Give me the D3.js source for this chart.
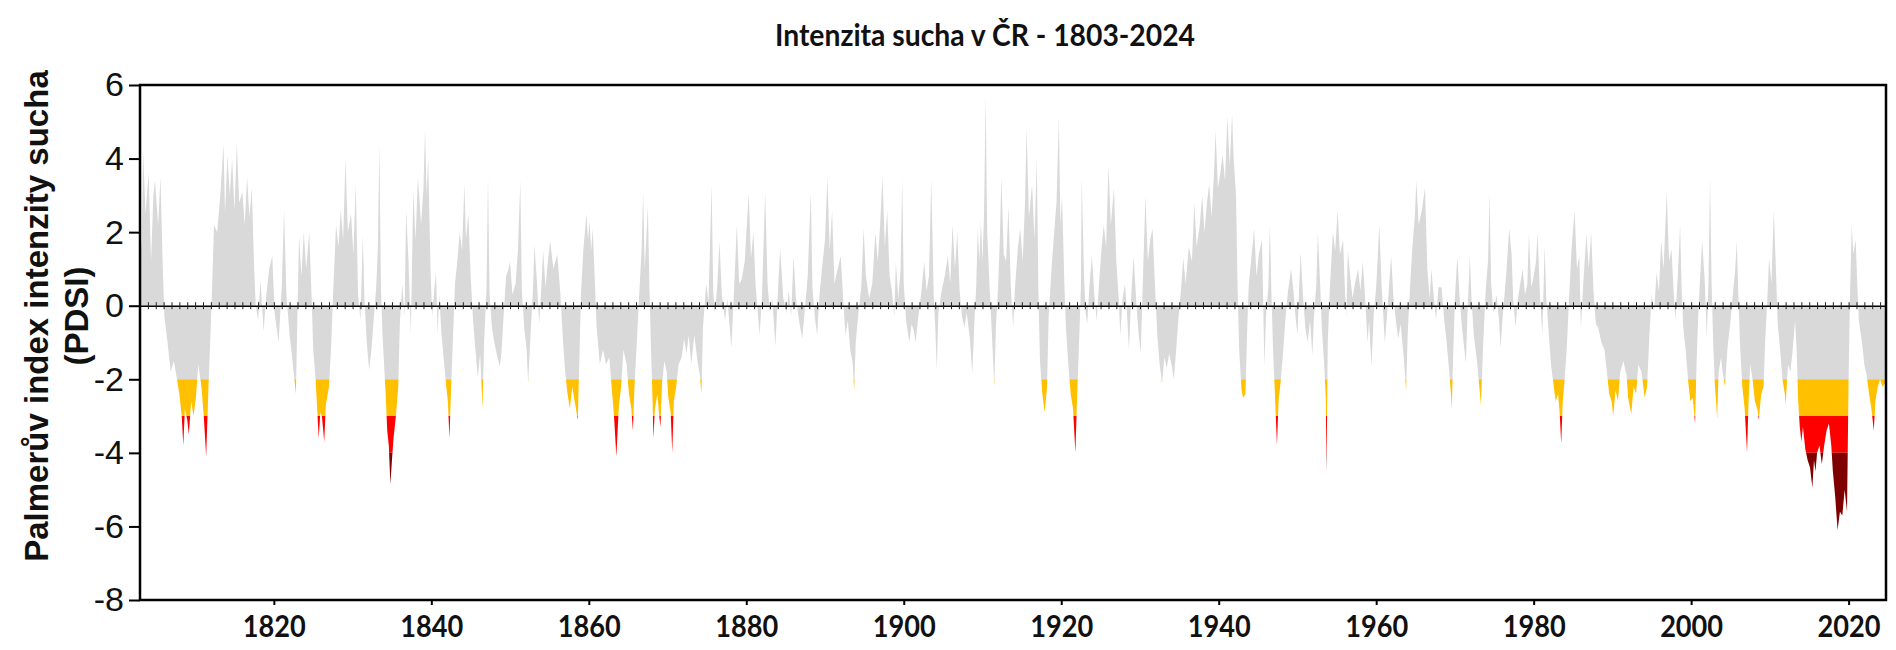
<!DOCTYPE html>
<html>
<head>
<meta charset="utf-8">
<script src="https://cdnjs.cloudflare.com/ajax/libs/d3/7.8.5/d3.min.js"></script>
<style>
  body { margin: 0; background: #ffffff; }
</style>
</head>
<body>
<script>
'use strict';

// PDSI: [year, value] turning points, one list per stretch of years
const pdsi1803_1830 = [
  [1803.0, 2.2], [1803.2, 1.5], [1803.4, 4.2], [1803.7, 2.5], [1804.1, 3.6], [1804.4, 1.2], [1804.7, 3.0],
  [1804.9, 3.4], [1805.3, 2.2], [1805.6, 3.5], [1805.9, 1.0], [1806.1, -0.3], [1806.5, -1.0], [1806.9, -1.8],
  [1807.3, -1.5], [1807.7, -2.0], [1808.0, -2.4], [1808.3, -3.0], [1808.5, -3.8], [1808.7, -2.8], [1809.0, -3.1],
  [1809.2, -3.5], [1809.5, -2.6], [1809.8, -3.0], [1810.1, -2.5], [1810.4, -1.6], [1810.8, -2.2], [1811.1, -3.0],
  [1811.4, -4.1], [1811.7, -2.2], [1812.0, -0.5], [1812.2, 0.8], [1812.4, 2.2], [1812.8, 2.0], [1813.2, 3.0],
  [1813.6, 4.4], [1813.8, 2.5], [1814.1, 4.1], [1814.4, 3.0], [1814.7, 4.0], [1815.0, 2.6], [1815.3, 4.4],
  [1815.6, 2.8], [1816.0, 3.1], [1816.3, 2.2], [1816.6, 3.5], [1816.9, 2.4], [1817.2, 3.2], [1817.5, 1.0],
  [1817.7, 0.0], [1818.0, -0.4], [1818.3, 0.7], [1818.7, -0.7], [1819.0, 0.2], [1819.4, 1.0], [1819.8, 1.35],
  [1820.1, -0.2], [1820.6, -1.0], [1821.0, 0.5], [1821.3, 2.6], [1821.6, 0.3], [1822.0, -0.8], [1822.3, -1.35],
  [1822.8, -2.4], [1823.0, -0.2], [1823.2, 1.9], [1823.5, 0.8], [1823.8, 2.0], [1824.1, 1.0], [1824.5, 2.0],
  [1824.8, 0.2], [1825.0, -1.2], [1825.3, -2.0], [1825.5, -2.8], [1825.7, -3.6], [1825.9, -2.9], [1826.1, -3.0],
  [1826.4, -3.7], [1826.6, -2.7], [1827.0, -2.2], [1827.3, -1.0], [1827.5, 0.2], [1827.9, 2.2], [1828.2, 1.6],
  [1828.5, 2.6], [1828.8, 1.8], [1829.1, 4.0], [1829.4, 2.0], [1829.8, 2.5], [1830.1, 1.4], [1830.4, 3.3],
  [1830.7, 0.3]
];

const pdsi1831_1856 = [
  [1831.0, -0.4], [1831.3, 1.9], [1831.5, 0.2], [1831.8, -1.0], [1832.1, -1.75], [1832.4, -1.2], [1832.7, -0.3],
  [1833.0, 0.5], [1833.2, 1.5], [1833.4, 4.4], [1833.6, 0.5], [1833.8, -0.8], [1834.0, -1.6], [1834.2, -2.4],
  [1834.4, -3.4], [1834.6, -3.8], [1834.8, -4.85], [1835.0, -4.2], [1835.2, -3.6], [1835.5, -3.0], [1835.8, -2.2],
  [1836.0, -0.5], [1836.3, 0.6], [1836.6, -0.3], [1836.8, 2.6], [1837.1, 1.2], [1837.4, -0.8], [1837.7, 3.1],
  [1838.0, 1.8], [1838.3, 3.5], [1838.7, 2.2], [1839.0, 3.2], [1839.2, 4.8], [1839.4, 3.0], [1839.6, 4.0],
  [1839.9, 1.0], [1840.1, -0.3], [1840.4, 0.5], [1840.6, 0.9], [1840.8, -0.8], [1841.0, 0.3], [1841.3, -0.8],
  [1841.6, -1.5], [1841.9, -2.2], [1842.1, -2.6], [1842.3, -3.6], [1842.5, -2.3], [1842.8, -0.6], [1843.0, 0.6],
  [1843.3, 1.2], [1843.6, 2.0], [1843.9, 1.5], [1844.2, 3.3], [1844.4, 1.8], [1844.7, 2.5], [1845.0, 0.8],
  [1845.3, -0.4], [1845.6, -1.2], [1845.9, -1.95], [1846.2, -1.3], [1846.5, -2.8], [1846.7, -1.0], [1847.0, 0.4],
  [1847.2, 3.5], [1847.4, 0.3], [1847.7, -0.6], [1848.0, -1.0], [1848.4, -1.4], [1848.7, -1.65], [1848.9, -1.3],
  [1849.2, -0.2], [1849.5, 0.8], [1849.8, 1.0], [1850.0, 1.2], [1850.3, 0.3], [1850.7, 0.6], [1851.0, 1.5],
  [1851.3, 3.4], [1851.5, 0.4], [1851.8, -0.6], [1852.1, -1.2], [1852.3, -2.1], [1852.6, -0.8], [1852.9, 0.4],
  [1853.1, 1.65], [1853.4, 0.7], [1853.7, -0.5], [1854.0, 0.6], [1854.2, 1.5], [1854.5, 0.5], [1854.8, 1.2],
  [1855.1, 1.75], [1855.5, 1.0], [1856.0, 1.4], [1856.4, 0.3], [1856.7, -0.9]
];

const pdsi1857_1885 = [
  [1857.0, -1.8], [1857.3, -2.4], [1857.6, -2.8], [1857.9, -2.2], [1858.2, -2.6], [1858.6, -3.1], [1858.8, -1.5],
  [1859.0, 0.3], [1859.3, 1.5], [1859.7, 2.5], [1859.9, 1.8], [1860.1, 2.3], [1860.3, 1.5], [1860.5, 2.1],
  [1860.8, 0.5], [1861.0, -0.6], [1861.4, -1.6], [1861.8, -1.2], [1862.2, -1.6], [1862.6, -1.4], [1862.9, -2.2],
  [1863.2, -3.0], [1863.5, -4.1], [1863.8, -2.8], [1864.1, -2.2], [1864.4, -1.2], [1864.8, -1.6], [1865.1, -2.4],
  [1865.4, -2.8], [1865.6, -3.4], [1865.8, -2.2], [1866.1, -1.0], [1866.4, 0.3], [1866.7, 1.5], [1866.9, 3.1],
  [1867.1, 1.0], [1867.3, 1.8], [1867.5, 2.7], [1867.7, 0.5], [1867.9, -1.2], [1868.1, -2.6], [1868.2, -3.6],
  [1868.4, -2.8], [1868.7, -2.4], [1868.9, -2.9], [1869.1, -3.3], [1869.3, -2.1], [1869.6, -1.5], [1869.9, -1.8],
  [1870.1, -2.5], [1870.4, -2.9], [1870.6, -4.0], [1870.8, -2.6], [1871.1, -2.2], [1871.4, -1.6], [1871.8, -1.4],
  [1872.1, -0.9], [1872.4, -1.3], [1872.7, -0.8], [1873.0, -1.6], [1873.4, -0.8], [1873.8, -1.5], [1874.1, -1.9],
  [1874.3, -2.4], [1874.5, -0.6], [1874.8, 0.3], [1874.9, 0.6], [1875.2, 0.1], [1875.6, 3.3], [1875.8, 0.4],
  [1876.0, -0.2], [1876.3, 0.5], [1876.6, 1.75], [1876.9, 0.3], [1877.3, -0.4], [1877.6, 0.2], [1878.1, -1.15],
  [1878.4, 0.2], [1878.8, 2.2], [1879.1, 0.6], [1879.4, 0.7], [1879.8, 1.2], [1880.3, 3.05], [1880.6, 1.3],
  [1880.9, 2.0], [1881.2, 0.5], [1881.7, -0.8], [1882.0, 0.3], [1882.4, 3.1], [1882.7, 0.6], [1883.0, -0.2],
  [1883.3, 0.2], [1883.7, -1.1], [1884.0, 0.3], [1884.3, 1.55], [1884.7, 0.2], [1885.1, -0.2]
];

const pdsi1885_1913 = [
  [1885.4, 0.4], [1885.7, -0.3], [1886.0, 1.35], [1886.3, 0.2], [1886.7, -0.4], [1887.1, -0.9], [1887.4, -0.2],
  [1887.8, 0.8], [1888.2, 3.1], [1888.4, 0.5], [1888.7, -0.3], [1889.0, -0.8], [1889.3, 0.3], [1889.7, 1.2],
  [1890.0, 1.8], [1890.3, 3.5], [1890.6, 1.5], [1890.9, 2.6], [1891.2, 0.6], [1891.6, 1.0], [1892.0, 1.35],
  [1892.3, 0.2], [1892.6, -0.8], [1892.9, -0.4], [1893.2, -1.2], [1893.5, -1.55], [1893.7, -2.3], [1893.9, -1.0],
  [1894.2, -0.3], [1894.6, 0.5], [1894.9, 2.1], [1895.2, 0.8], [1895.6, 0.2], [1896.0, 0.6], [1896.4, 2.0],
  [1896.7, 1.2], [1897.0, 2.2], [1897.3, 3.5], [1897.6, 1.6], [1897.9, 2.6], [1898.2, 0.8], [1898.5, 0.4],
  [1898.8, -0.3], [1899.0, 1.2], [1899.3, 0.2], [1899.6, 1.0], [1899.8, 3.45], [1900.0, 0.6], [1900.3, -0.4],
  [1900.7, -1.0], [1901.0, -0.5], [1901.3, -0.7], [1901.5, -1.0], [1901.9, -0.2], [1902.2, 0.3], [1902.6, 1.2],
  [1902.9, 0.4], [1903.2, 0.8], [1903.5, 3.45], [1903.8, 0.3], [1904.0, -0.6], [1904.2, -1.75], [1904.4, -0.2],
  [1904.8, 0.4], [1905.2, 0.8], [1905.6, 1.35], [1905.9, 0.6], [1906.2, 2.2], [1906.5, 1.0], [1906.8, 2.0],
  [1907.1, 0.4], [1907.4, -0.3], [1907.7, -0.6], [1908.0, -0.2], [1908.4, -0.9], [1908.7, -1.85], [1909.0, -0.3],
  [1909.2, 0.5], [1909.4, 2.1], [1909.6, 1.2], [1909.8, 2.3], [1910.0, 1.2], [1910.2, 2.5], [1910.4, 5.7],
  [1910.6, 2.0], [1910.9, 0.5], [1911.2, -0.8], [1911.5, -2.2], [1911.7, -0.6], [1912.0, 0.6], [1912.2, 1.8],
  [1912.4, 3.5], [1912.7, 1.4], [1913.0, 1.2], [1913.3, 2.7]
];

const pdsi1913_1941 = [
  [1913.6, 0.5], [1913.9, -0.6], [1914.1, 0.4], [1914.5, 1.6], [1914.8, 2.1], [1915.1, 1.2], [1915.4, 2.8],
  [1915.6, 4.85], [1915.9, 2.4], [1916.3, 3.3], [1916.6, 1.8], [1916.9, 4.0], [1917.1, 0.4], [1917.3, -1.5],
  [1917.6, -2.4], [1917.9, -2.9], [1918.2, -2.2], [1918.4, -0.3], [1918.6, 0.4], [1918.8, 1.1], [1919.1, 2.0],
  [1919.4, 2.8], [1919.7, 5.1], [1919.9, 2.2], [1920.1, 3.0], [1920.4, 0.6], [1920.6, -0.6], [1920.9, -1.6],
  [1921.2, -2.4], [1921.5, -2.8], [1921.8, -4.0], [1922.0, -2.6], [1922.3, -0.8], [1922.5, 0.5], [1922.6, 3.5],
  [1922.9, 0.8], [1923.1, -0.2], [1923.3, -0.5], [1923.6, 0.6], [1923.9, 1.35], [1924.2, 0.3], [1924.5, -0.4],
  [1924.8, 0.6], [1925.1, 1.5], [1925.4, 2.2], [1925.7, 1.6], [1926.0, 3.8], [1926.3, 2.2], [1926.7, 3.2],
  [1927.0, 1.2], [1927.3, 0.2], [1927.5, -0.8], [1927.8, 0.2], [1928.1, 0.6], [1928.4, -0.4], [1928.6, -1.2],
  [1928.9, 0.3], [1929.2, 1.35], [1929.5, 0.2], [1929.8, -0.7], [1930.1, -1.3], [1930.3, 0.2], [1930.7, 3.0],
  [1931.0, 1.2], [1931.3, 1.8], [1931.6, 2.1], [1931.9, 0.6], [1932.2, -0.8], [1932.5, -1.6], [1932.8, -2.1],
  [1933.1, -1.4], [1933.4, -1.7], [1933.7, -1.3], [1934.0, -1.6], [1934.3, -2.0], [1934.6, -1.2], [1934.9, -0.3],
  [1935.2, 0.4], [1935.5, 1.3], [1935.8, 0.6], [1936.2, 1.6], [1936.6, 1.2], [1936.9, 2.8], [1937.2, 1.6],
  [1937.6, 2.2], [1937.9, 3.0], [1938.2, 2.0], [1938.5, 2.8], [1938.8, 3.3], [1939.1, 2.4], [1939.4, 3.6],
  [1939.6, 4.75], [1939.9, 3.2], [1940.2, 3.6], [1940.5, 4.1], [1940.8, 3.4], [1941.1, 5.15], [1941.4, 3.8],
  [1941.7, 5.2], [1941.9, 4.0]
];

const pdsi1942_1969 = [
  [1942.2, 3.0], [1942.4, 0.5], [1942.6, -1.2], [1942.9, -2.3], [1943.1, -2.5], [1943.4, -2.4], [1943.6, -0.8],
  [1943.8, 0.5], [1944.1, 1.2], [1944.5, 2.1], [1944.8, 0.8], [1945.1, 1.4], [1945.5, 1.8], [1945.7, -0.5],
  [1945.8, -1.65], [1946.0, -0.3], [1946.3, 0.5], [1946.5, 2.2], [1946.7, 0.3], [1946.9, -1.2], [1947.1, -2.2],
  [1947.4, -3.8], [1947.6, -2.6], [1947.9, -2.0], [1948.2, -1.2], [1948.5, -0.3], [1948.8, 0.4], [1949.2, 1.0],
  [1949.5, 0.4], [1949.8, -0.4], [1950.0, -0.8], [1950.2, 0.4], [1950.4, 1.45], [1950.7, 0.3], [1951.0, -0.6],
  [1951.3, -1.0], [1951.6, -0.4], [1951.9, -1.35], [1952.1, -0.3], [1952.4, 0.6], [1952.6, 2.0], [1952.9, 0.5],
  [1953.1, -0.6], [1953.4, -1.6], [1953.6, -2.5], [1953.7, -4.55], [1953.85, -1.0], [1954.1, 0.4], [1954.5, 2.0],
  [1954.8, 1.5], [1955.1, 2.6], [1955.4, 1.4], [1955.8, 1.8], [1956.0, 0.6], [1956.2, -0.3], [1956.4, 1.5],
  [1956.7, 0.8], [1957.0, 0.2], [1957.3, 0.6], [1957.7, 1.0], [1958.0, 0.4], [1958.3, 1.2], [1958.6, 0.2],
  [1958.9, -1.0], [1959.1, -0.4], [1959.4, -1.65], [1959.7, -0.2], [1960.0, 0.5], [1960.4, 2.2], [1960.7, 0.5],
  [1961.1, -1.0], [1961.4, -0.2], [1961.9, 1.35], [1962.2, 0.2], [1962.5, -0.4], [1962.8, -0.9], [1963.1, -0.5],
  [1963.5, -1.4], [1963.8, -2.3], [1964.0, -0.8], [1964.3, 0.5], [1964.6, 1.6], [1964.9, 2.4], [1965.1, 3.4],
  [1965.4, 2.2], [1965.8, 2.6], [1966.2, 3.2], [1966.5, 1.0], [1966.8, 0.2], [1967.0, 1.0], [1967.3, 0.3],
  [1967.6, -0.4], [1967.9, 0.5], [1968.3, 0.5], [1968.6, -0.3], [1968.9, -0.9], [1969.2, -1.6], [1969.5, -2.4],
  [1969.6, -2.8], [1969.8, -1.2]
];

const pdsi1970_1997 = [
  [1970.0, 0.2], [1970.3, 1.35], [1970.6, 0.2], [1970.9, -0.6], [1971.2, -1.2], [1971.4, -1.55], [1971.6, -0.2],
  [1971.9, 1.35], [1972.1, 0.2], [1972.4, -0.8], [1972.8, -1.5], [1973.1, -2.2], [1973.3, -2.7], [1973.6, -1.0],
  [1973.9, 0.4], [1974.2, 1.2], [1974.4, 3.05], [1974.6, 0.6], [1974.9, -0.2], [1975.3, 0.3], [1975.6, -0.4],
  [1975.8, -1.15], [1976.1, -0.2], [1976.5, 0.8], [1976.9, 2.1], [1977.2, 1.4], [1977.4, 0.2], [1977.7, -0.6],
  [1978.0, 0.2], [1978.3, 0.6], [1978.6, 1.0], [1978.9, 0.3], [1979.2, 0.6], [1979.4, 1.95], [1979.7, 0.5],
  [1980.0, 0.8], [1980.3, 1.2], [1980.5, 2.0], [1980.8, 0.3], [1981.1, -0.8], [1981.4, 1.65], [1981.6, 0.2],
  [1981.9, -0.7], [1982.2, -1.6], [1982.5, -2.1], [1982.8, -2.6], [1983.1, -2.4], [1983.3, -2.9], [1983.5, -3.75],
  [1983.7, -2.6], [1983.9, -2.1], [1984.2, -1.2], [1984.5, 0.2], [1984.8, 1.5], [1985.2, 2.6], [1985.5, 1.0],
  [1985.8, 1.35], [1986.0, -0.6], [1986.3, 0.6], [1986.7, 1.95], [1987.0, 1.0], [1987.3, 2.0], [1987.6, 0.4],
  [1987.9, -0.5], [1988.2, -0.6], [1988.6, -1.0], [1989.0, -1.2], [1989.3, -1.8], [1989.6, -2.4], [1989.9, -2.6],
  [1990.1, -3.0], [1990.4, -2.3], [1990.7, -2.6], [1991.0, -1.8], [1991.4, -1.5], [1991.8, -1.9], [1992.0, -2.5],
  [1992.4, -2.95], [1992.7, -2.2], [1993.0, -2.4], [1993.3, -1.6], [1993.7, -1.8], [1994.1, -2.5], [1994.4, -2.2],
  [1994.7, -0.8], [1995.0, 0.3], [1995.3, -0.2], [1995.6, 0.9], [1995.9, 0.4], [1996.2, 1.75], [1996.5, 1.0],
  [1996.9, 3.1], [1997.2, 1.2], [1997.5, 1.55]
];

const pdsi1997_2024 = [
  [1997.8, 0.3], [1998.0, -0.4], [1998.3, 0.8], [1998.6, 2.2], [1998.8, 0.4], [1999.0, -0.6], [1999.3, -1.2],
  [1999.6, -2.0], [1999.9, -2.6], [2000.2, -2.5], [2000.5, -3.2], [2000.7, -1.5], [2000.9, -0.3], [2001.1, 0.6],
  [2001.4, 1.75], [2001.7, 0.8], [2002.0, -0.9], [2002.2, 0.6], [2002.4, 3.5], [2002.6, 0.6], [2002.8, -1.0],
  [2003.0, -2.1], [2003.3, -3.05], [2003.5, -1.8], [2003.8, -1.4], [2004.0, -1.8], [2004.3, -2.2], [2004.6, -1.2],
  [2005.0, -0.4], [2005.3, 0.3], [2005.6, 1.0], [2005.8, 1.75], [2006.0, 0.3], [2006.2, -1.0], [2006.5, -2.2],
  [2006.8, -2.8], [2007.1, -4.0], [2007.3, -2.6], [2007.5, -1.6], [2007.8, -2.0], [2008.1, -2.6], [2008.4, -2.8],
  [2008.6, -3.1], [2008.9, -2.4], [2009.2, -2.2], [2009.4, -1.0], [2009.7, 0.3], [2009.9, 1.3], [2010.2, 0.6],
  [2010.5, 2.6], [2010.8, 0.8], [2011.0, -0.5], [2011.3, -1.2], [2011.6, -2.0], [2011.9, -2.4], [2012.0, -2.7],
  [2012.3, -1.6], [2012.6, -1.8], [2012.9, -1.2], [2013.2, -0.4], [2013.4, -1.2], [2013.6, -2.6], [2013.8, -3.3],
  [2014.0, -3.7], [2014.2, -3.3], [2014.5, -3.9], [2014.8, -4.2], [2015.1, -4.4], [2015.4, -4.95], [2015.6, -4.2],
  [2015.8, -4.5], [2016.0, -4.0], [2016.3, -3.8], [2016.6, -4.3], [2016.9, -3.8], [2017.2, -3.4], [2017.5, -3.2],
  [2017.8, -3.8], [2018.0, -4.5], [2018.3, -5.2], [2018.6, -6.1], [2018.9, -5.6], [2019.2, -5.7], [2019.5, -5.0],
  [2019.8, -5.6], [2020.0, -2.0], [2020.2, 0.5], [2020.4, 2.2], [2020.6, 1.4], [2020.9, 1.8], [2021.1, 0.6],
  [2021.3, -0.4], [2021.7, -1.0], [2022.0, -1.6], [2022.3, -1.9], [2022.6, -2.4], [2022.9, -2.8], [2023.2, -3.4],
  [2023.4, -2.6], [2023.7, -2.2], [2024.0, -2.0], [2024.3, -2.2], [2024.7, -2.1]
];

// axis ticks
const xTickYears = [1820, 1840, 1860, 1880, 1900, 1920, 1940, 1960, 1980, 2000, 2020];
const yTicks = [-8, -6, -4, -2, 0, 2, 4, 6];

// drought classes: [upper, lower] and colour
const bandLimits = [[6, -2], [-2, -3], [-3, -4], [-4, -8]];
const bandColors = ['#D9D9D9', '#FFC000', '#FF0000', '#7F0000'];

(function() {

  let svgContainer = "";

  const margin = { left: 140, right: 1886, top: 85, bottom: 600 };

  window.onload = function() {
    svgContainer = d3.select('body')
      .append('svg')
      .attr('width', 1896)
      .attr('height', 650);

    const data = [].concat(pdsi1803_1830, pdsi1831_1856, pdsi1857_1885, pdsi1885_1913,
      pdsi1913_1941, pdsi1942_1969, pdsi1970_1997, pdsi1997_2024);

    let map = drawScales();
    plotData(data, map);
    drawAxes(map);
    makeLabels();
  }

  function drawScales() {
    let xScale = d3.scaleLinear()
      .domain([1803, 2024.75])
      .range([margin.left, margin.right]);

    let yScale = d3.scaleLinear()
      .domain([-8, 6])
      .range([margin.bottom, margin.top]);

    return { x: xScale, y: yScale };
  }

  // one area, painted four times through band clips
  function plotData(data, map) {
    let x = map.x, y = map.y;

    let area = d3.area()
      .x(d => x(d[0]))
      .y0(y(0))
      .y1(d => y(d[1]));

    let defs = svgContainer.append('defs');
    bandLimits.forEach((b, i) => {
      defs.append('clipPath')
        .attr('id', 'band' + i)
        .append('rect')
        .attr('x', margin.left)
        .attr('y', y(b[0]))
        .attr('width', margin.right - margin.left)
        .attr('height', y(b[1]) - y(b[0]));
    });

    bandLimits.forEach((b, i) => {
      svgContainer.append('path')
        .datum(data)
        .attr('clip-path', 'url(#band' + i + ')')
        .attr('d', area)
        .style('fill', bandColors[i])
        .style('stroke', 'none');
    });
  }

  function drawAxes(map) {
    let x = map.x, y = map.y;

    // zero line with a small mark every year
    let zeroAxis = d3.axisBottom(x)
      .tickValues(d3.range(1803, 2025))
      .tickSize(0)
      .tickFormat('');
    let zg = svgContainer.append('g')
      .attr('transform', 'translate(0,' + y(0) + ')')
      .call(zeroAxis);
    zg.select('.domain').attr('stroke', '#000').attr('stroke-width', 1.6);
    zg.selectAll('.tick line')
      .attr('y1', -3.5)
      .attr('y2', 3.5)
      .attr('stroke', '#222')
      .attr('stroke-width', 1);

    // bottom axis
    let xAxis = d3.axisBottom(x)
      .tickValues(xTickYears)
      .tickSize(5)
      .tickFormat(d => String(d));
    let xg = svgContainer.append('g')
      .attr('transform', 'translate(0,' + margin.bottom + ')')
      .call(xAxis);
    xg.select('.domain').remove();
    xg.selectAll('.tick line').attr('stroke', '#000').attr('stroke-width', 2);
    xg.selectAll('.tick text')
      .attr('y', 37)
      .attr('dy', null)
      .attr('textLength', 63)
      .attr('lengthAdjust', 'spacingAndGlyphs')
      .style('font-family', 'Lato, "Open Sans", sans-serif')
      .style('font-weight', 'bold')
      .style('font-size', '31px')
      .attr('fill', '#111');

    // left axis
    let yAxis = d3.axisLeft(y)
      .tickValues(yTicks)
      .tickSize(11)
      .tickPadding(5)
      .tickFormat(d => String(d));
    let yg = svgContainer.append('g')
      .attr('transform', 'translate(' + margin.left + ',0)')
      .call(yAxis);
    yg.select('.domain').remove();
    yg.selectAll('.tick line').attr('stroke', '#000').attr('stroke-width', 2);
    yg.selectAll('.tick text')
      .style('font-family', '"Liberation Sans", Arial, sans-serif')
      .style('font-size', '34px')
      .attr('fill', '#111');

    // frame
    svgContainer.append('rect')
      .attr('x', margin.left)
      .attr('y', margin.top)
      .attr('width', margin.right - margin.left)
      .attr('height', margin.bottom - margin.top)
      .style('fill', 'none')
      .style('stroke', '#000')
      .style('stroke-width', 2.5);
  }

  function makeLabels() {
    svgContainer.append('text')
      .attr('x', 985)
      .attr('y', 46)
      .attr('text-anchor', 'middle')
      .attr('textLength', 420)
      .attr('lengthAdjust', 'spacingAndGlyphs')
      .style('font-family', 'Lato, "Open Sans", sans-serif')
      .style('font-weight', 'bold')
      .style('font-size', '30px')
      .attr('fill', '#111')
      .text('Intenzita sucha v ČR - 1803-2024');

    svgContainer.append('text')
      .attr('transform', 'translate(48, 316)rotate(-90)')
      .attr('text-anchor', 'middle')
      .style('font-family', '"Liberation Sans", Arial, sans-serif')
      .style('font-weight', 'bold')
      .style('font-size', '33px')
      .attr('fill', '#111')
      .text('Palmerův index intenzity sucha');

    svgContainer.append('text')
      .attr('transform', 'translate(88, 316)rotate(-90)')
      .attr('text-anchor', 'middle')
      .style('font-family', '"Liberation Sans", Arial, sans-serif')
      .style('font-weight', 'bold')
      .style('font-size', '33px')
      .attr('fill', '#111')
      .text('(PDSI)');
  }

})();
</script>
</body>
</html>
